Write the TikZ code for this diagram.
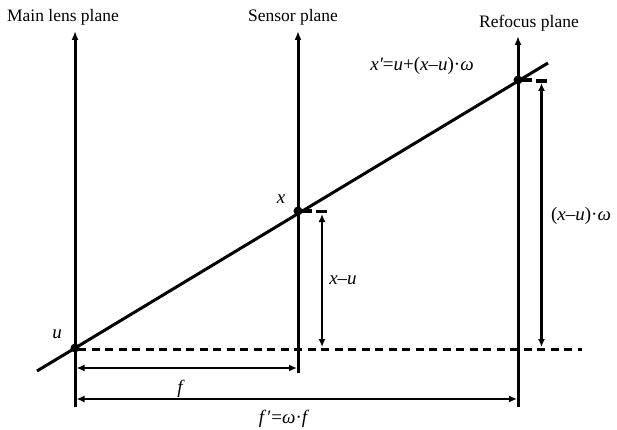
\documentclass[tikz,border=0pt]{standalone}
\usepackage{fontspec}
\setmainfont{Liberation Serif}
\usetikzlibrary{arrows.meta}
\begin{document}
\begin{tikzpicture}[x=1pt,y=-1pt,
  plane/.style={line width=3pt,-{Latex[length=9pt,width=7pt]}},
  thick line/.style={line width=3pt},
  dim/.style={line width=2.5pt,{Latex[length=8pt,width=7pt]}-{Latex[length=8pt,width=7pt]}},
  bar/.style={line width=3.2pt},
  dot/.style={circle,fill=black,inner sep=0pt,minimum size=9pt},
  lbl/.style={font=\fontsize{17.5}{19}\selectfont,inner sep=1pt},
  mlbl/.style={font=\fontsize{19}{21}\selectfont\itshape,inner sep=1pt}]
\useasboundingbox (0,0) rectangle (617,430);
% plane lines
\coordinate (mlb) at (75,407);
\coordinate (mlt) at (75,31);
\coordinate (spb) at (298,373);
\coordinate (spt) at (298,31);
\coordinate (rpb) at (518,407);
\coordinate (rpt) at (518,36);
\draw[plane] (mlb) -- (mlt);
\draw[plane] (spb) -- (spt);
\draw[plane] (rpb) -- (rpt);
\node[lbl] (mll) at (63,17) {Main lens plane};
\node[lbl] (spl) at (293,17) {Sensor plane};
\node[lbl] (rpl) at (529,23) {Refocus plane};
% ray
\coordinate (rs) at (37,371);
\coordinate (re) at (548,63);
\draw[thick line] (rs) -- (re);
\node[dot] (u) at (75,348) {};
\node[dot] (x) at (298,211) {};
\node[dot] (xp) at (518,80) {};
% dashed line
\coordinate (de) at (582,349);
\draw[line width=3pt,dash pattern=on 8pt off 5.5pt] (78,349) -- (de);
% ticks
\coordinate (xt) at (312,211);
\coordinate (xpt) at (532,80);
\draw[bar] (x.center) -- (xt);
\draw[bar] (xp.center) -- (xpt);
\draw[bar] (316,211.5) -- (327,211.5);
\draw[bar] (536,81) -- (547,81);
% vertical dims
\coordinate (xut) at (322,214);
\coordinate (xub) at (322,347);
\coordinate (xwt) at (541.5,83);
\coordinate (xwb) at (541.5,347);
\draw[dim] (xut) -- (xub);
\draw[dim] (xwt) -- (xwb);
% horizontal dims
\coordinate (fa) at (76.5,368);
\coordinate (fb) at (297,368);
\coordinate (fpa) at (76.5,399);
\coordinate (fpb) at (517,399);
\draw[dim] (fa) -- (fb);
\draw[dim] (fpa) -- (fpb);
% labels
\node[mlbl] (ul) at (57,334) {u};
\node[mlbl] (xl) at (281,199) {x};
\node[mlbl] (xul) at (343,280) {x{\upshape –}u};
\node[mlbl] (xwl) at (581,216) {{\upshape (}x{\upshape –}u{\upshape )·}ω};
\node[mlbl] (xpl) at (422,66) {x′{\upshape =}u{\upshape +(}x{\upshape –}u{\upshape )·}ω};
\node[mlbl] (fl) at (180,389) {f};
\node[mlbl] (fpl) at (283,419) {f{\upshape \,′=}ω{\upshape ·}f};
\end{tikzpicture}
\end{document}
